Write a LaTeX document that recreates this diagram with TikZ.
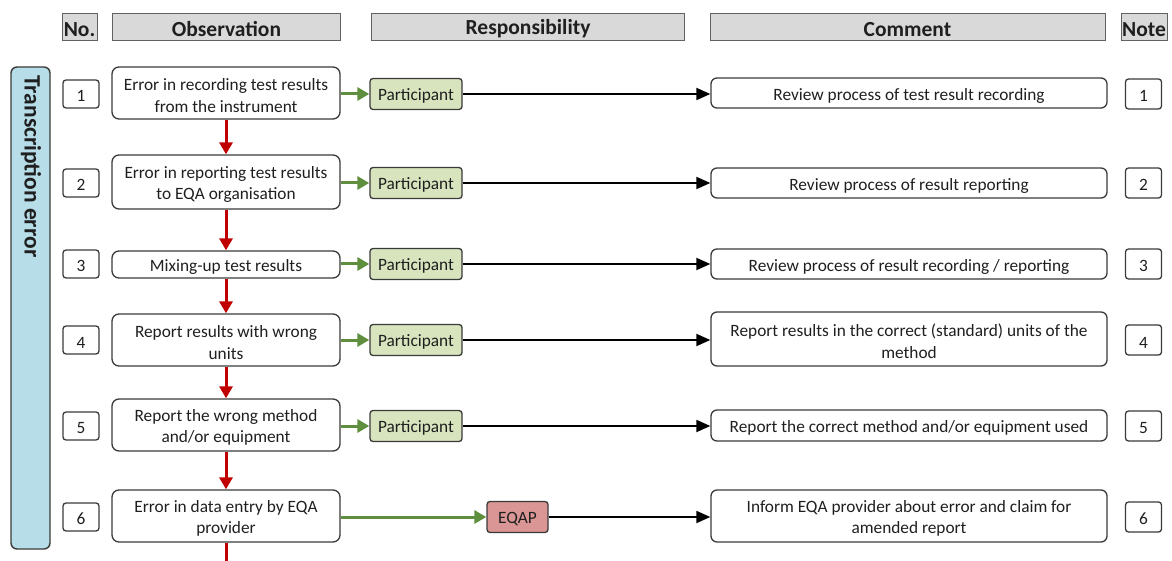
\documentclass[tikz,border=0pt]{standalone}
\usepackage{fontspec}
\setmainfont{Carlito}
\usetikzlibrary{arrows.meta}
\definecolor{hdrfill}{HTML}{D9D9D9}
\definecolor{sidefill}{HTML}{B7DDE8}
\definecolor{partfill}{HTML}{D7E4BD}
\definecolor{eqapfill}{HTML}{DA9694}
\definecolor{redarr}{HTML}{C00000}
\definecolor{greenarr}{HTML}{5E8E3E}
\definecolor{edge}{HTML}{3A3A3A}
\definecolor{txt}{HTML}{1F1F1F}
\newcommand\lowstrut{\rule{0pt}{17pt}}
\tikzset{
  every node/.style={text=txt},
  lowtext/.style={execute at begin node={\rule{0pt}{#1}}},
  hdr/.style={draw=edge!80, fill=hdrfill, line width=1pt, minimum height=27pt, inner sep=0pt, lowtext=18.5pt, font=\fontsize{21.5}{24}\selectfont\bfseries},
  numbox/.style={draw=edge, rounded corners=3pt, line width=1.3pt, minimum width=36pt, minimum height=28pt, inner sep=0pt, lowtext=16pt, font=\fontsize{17.3}{21}\selectfont},
  obsbox/.style={draw=edge, rounded corners=7pt, line width=1.3pt, minimum width=228pt, inner sep=2pt, align=center, font=\fontsize{17.3}{21.5}\selectfont},
  combox/.style={draw=edge, rounded corners=6pt, line width=1.3pt, minimum width=396pt, inner sep=2pt, align=center, font=\fontsize{17.3}{21.5}\selectfont},
  partbox/.style={draw=edge, fill=partfill, rounded corners=3pt, line width=1.3pt, minimum width=92pt, minimum height=31pt, inner sep=0pt, lowtext=16.5pt, font=\fontsize{17.3}{21}\selectfont},
  eqapbox/.style={draw=edge, fill=eqapfill, rounded corners=3pt, line width=1.3pt, minimum width=61pt, minimum height=31pt, inner sep=0pt, lowtext=16pt, font=\fontsize{17.3}{21}\selectfont},
  redflow/.style={draw=redarr, line width=3pt, -{Triangle[length=12pt,width=13pt]}},
  greenflow/.style={draw=greenarr, line width=3pt, -{Triangle[length=12pt,width=13pt]}},
  blackflow/.style={draw=black, line width=1.8pt, -{Triangle[length=14pt,width=12pt]}},
}
\begin{document}
\begin{tikzpicture}[x=1pt,y=-1pt]
\useasboundingbox (0,0) rectangle (1172,561);
% headers
\node[hdr, minimum width=35pt] (hno) at (79.5,27) {No.};
\node[hdr, minimum width=228pt] (hobs) at (226.5,27) {Observation};
\node[hdr, minimum width=313pt] (hresp) at (528,27) {Responsibility};
\node[hdr, minimum width=395pt] (hcom) at (907.5,27) {Comment};
\node[hdr, minimum width=46pt] (hnote) at (1144,27) {Note};
% side bar
\node[draw=edge, fill=sidefill, rounded corners=6pt, line width=1.4pt, minimum width=39pt, minimum height=482pt, inner sep=0pt] (side) at (30.5,308) {};
\node[rotate=-90, anchor=west, font=\fontsize{23.5}{26}\selectfont\bfseries] (sidetxt) at (31,72) {Transcription error};
% rows
\node[numbox] (n1) at (81,94) {1};
\node[numbox] (n2) at (81,183) {2};
\node[numbox] (n3) at (81,264) {3};
\node[numbox] (n4) at (81,340) {4};
\node[numbox] (n5) at (81,426) {5};
\node[numbox] (n6) at (81,517) {6};
\node[obsbox, minimum height=52pt] (o1) at (226,93) {\lowstrut Error in recording test results\\from the instrument};
\node[obsbox, minimum height=54pt] (o2) at (226,182) {\lowstrut Error in reporting test results\\to EQA organisation};
\node[obsbox, minimum height=27pt] (o3) at (226,264.5) {\lowstrut Mixing-up test results};
\node[obsbox, minimum height=52pt] (o4) at (226,340) {\lowstrut Report results with wrong\\units};
\node[obsbox, minimum height=52pt] (o5) at (226,425) {\lowstrut Report the wrong method\\and/or equipment};
\node[obsbox, minimum height=52pt] (o6) at (226,516) {\lowstrut Error in data entry by EQA\\provider};
\node[partbox] (p1) at (416,94) {Participant};
\node[partbox] (p2) at (416,183) {Participant};
\node[partbox] (p3) at (416,264) {Participant};
\node[partbox] (p4) at (416,340) {Participant};
\node[partbox] (p5) at (416,426) {Participant};
\node[eqapbox] (p6) at (517.5,517) {EQAP};
\node[combox, minimum height=30pt] (c1) at (909,93) {\lowstrut Review process of test result recording};
\node[combox, minimum height=30pt] (c2) at (909,183) {\lowstrut Review process of result reporting};
\node[combox, minimum height=30pt] (c3) at (909,264) {\lowstrut Review process of result recording / reporting};
\node[combox, minimum height=54pt] (c4) at (909,339) {\lowstrut Report results in the correct (standard) units of the\\method};
\node[combox, minimum height=31pt] (c5) at (909,425.5) {\lowstrut Report the correct method and/or equipment used};
\node[combox, minimum height=52pt] (c6) at (909,516) {\lowstrut Inform EQA provider about error and claim for\\amended report};
\node[numbox, minimum height=30pt] (m1) at (1143.5,94) {1};
\node[numbox, minimum height=30pt] (m2) at (1143.5,183) {2};
\node[numbox, minimum height=30pt] (m3) at (1143.5,264) {3};
\node[numbox, minimum height=30pt] (m4) at (1143.5,340) {4};
\node[numbox, minimum height=30pt] (m5) at (1143.5,426) {5};
\node[numbox, minimum height=30pt] (m6) at (1143.5,517) {6};
\coordinate (bottomend) at (226,561);
% red flow
\draw[redflow] (o1.south) -- (o2.north);
\draw[redflow] (o2.south) -- (o3.north);
\draw[redflow] (o3.south) -- (o4.north);
\draw[redflow] (o4.south) -- (o5.north);
\draw[redflow] (o5.south) -- (o6.north);
\draw[draw=redarr, line width=3pt] (o6.south) -- (bottomend);
% green and black
\foreach \i in {1,...,6}{
  \draw[greenflow] (o\i.east |- p\i.west) -- (p\i.west);
  \draw[blackflow] (p\i.east) -- (c\i.west |- p\i.east);
}
\end{tikzpicture}
\end{document}
